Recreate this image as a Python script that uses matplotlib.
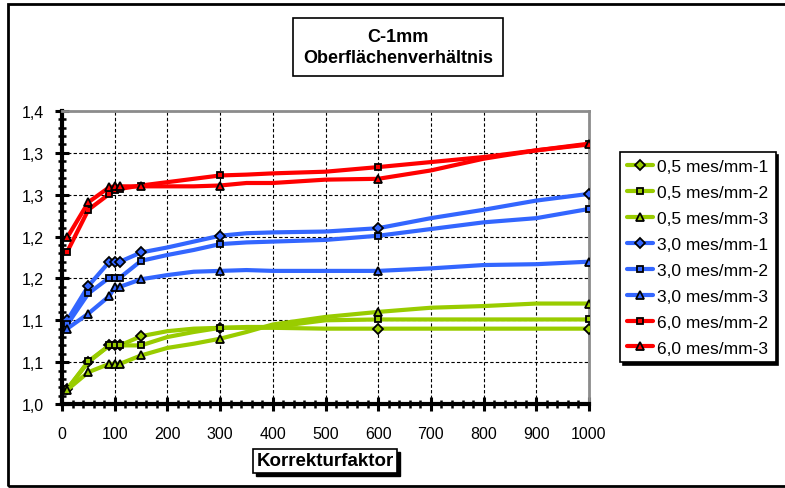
import matplotlib
matplotlib.use('Agg')
import matplotlib.pyplot as plt
from matplotlib.ticker import MultipleLocator, FuncFormatter
from matplotlib.patches import Rectangle
from decimal import Decimal, ROUND_HALF_UP

plt.rcParams['font.family'] = ['Liberation Sans', 'DejaVu Sans']

# ---------------- data ----------------
x_vals = [10, 50, 90, 100, 110, 150, 200, 250, 300, 350, 400, 500, 600, 700, 800, 900, 1000]
marker_x = [10, 50, 90, 100, 110, 150, 300, 600, 1000]

g1 = [1.018, 1.050, 1.070, 1.070, 1.070, 1.081, 1.087, 1.090, 1.091, 1.091, 1.091, 1.090, 1.090, 1.090, 1.090, 1.090, 1.090]
g2 = [1.018, 1.051, 1.070, 1.070, 1.070, 1.070, 1.080, 1.086, 1.091, 1.092, 1.092, 1.100, 1.101, 1.101, 1.101, 1.101, 1.101]
g3 = [1.017, 1.038, 1.048, 1.048, 1.048, 1.058, 1.067, 1.072, 1.078, 1.086, 1.095, 1.104, 1.110, 1.115, 1.117, 1.120, 1.120]
b1 = [1.100, 1.141, 1.170, 1.170, 1.170, 1.181, 1.187, 1.194, 1.201, 1.204, 1.205, 1.206, 1.210, 1.222, 1.232, 1.243, 1.251]
b2 = [1.095, 1.132, 1.151, 1.151, 1.151, 1.171, 1.178, 1.184, 1.191, 1.193, 1.194, 1.196, 1.201, 1.209, 1.217, 1.222, 1.233]
b3 = [1.090, 1.108, 1.129, 1.140, 1.140, 1.149, 1.154, 1.158, 1.159, 1.160, 1.159, 1.159, 1.159, 1.162, 1.166, 1.167, 1.170]
r2 = [1.182, 1.232, 1.251, 1.256, 1.257, 1.261, 1.265, 1.269, 1.273, 1.274, 1.2755, 1.2775, 1.283, 1.289, 1.295, 1.303, 1.310]
r3 = [1.199, 1.241, 1.259, 1.260, 1.260, 1.260, 1.260, 1.260, 1.261, 1.264, 1.264, 1.268, 1.269, 1.279, 1.293, 1.303, 1.311]

labels = ['0,5 mes/mm-1', '0,5 mes/mm-2', '0,5 mes/mm-3',
          '3,0 mes/mm-1', '3,0 mes/mm-2', '3,0 mes/mm-3',
          '6,0 mes/mm-2', '6,0 mes/mm-3']
series = [g1, g2, g3, b1, b2, b3, r2, r3]
colors = ['#99CC00'] * 3 + ['#3366FF'] * 3 + ['#FF0000'] * 2
markers = ['D', 's', '^', 'D', 's', '^', 's', '^']
msizes = {'D': 5, 's': 5, '^': 6}

title_text = 'C-1mm\nOberflächenverhältnis'
xlabel_text = 'Korrekturfaktor'

# ---------------- figure ----------------
W, H = 785, 489
fig = plt.figure(figsize=(W / 100, H / 100), dpi=100)
ax = fig.add_axes([62 / W, 1 - 405 / H, (589 - 62) / W, (405 - 112) / H])

mark_idx = [x_vals.index(v) for v in marker_x]
for y, lab, c, m in zip(series, labels, colors, markers):
    ax.plot(x_vals, y, color=c, lw=3.0, marker=m, markevery=mark_idx,
            ms=msizes[m], mfc=c, mec='black', mew=1.3, label=lab,
            solid_joinstyle='round', solid_capstyle='round', zorder=3)

ax.set_xlim(0, 1000)
ax.set_ylim(1.0, 1.35)
ax.xaxis.set_major_locator(MultipleLocator(100))
ax.xaxis.set_minor_locator(MultipleLocator(20))
ax.yaxis.set_major_locator(MultipleLocator(0.05))
ax.yaxis.set_minor_locator(MultipleLocator(0.01))


def yfmt(v, pos):
    d = Decimal(str(round(v, 6))).quantize(Decimal('0.1'), rounding=ROUND_HALF_UP)
    return str(d).replace('.', ',')


ax.yaxis.set_major_formatter(FuncFormatter(yfmt))

ax.grid(True, which='major', color='black', linestyle=(0, (3, 2)), lw=0.8)
ax.set_axisbelow(True)

ax.tick_params(axis='both', which='major', direction='inout', length=10, width=2.2,
               labelsize=11.5, color='black')
ax.tick_params(axis='both', which='minor', direction='inout', length=6, width=1.8, color='black')
ax.tick_params(axis='x', which='major', pad=11)
ax.tick_params(axis='y', which='major', pad=8)

for s in ['left', 'bottom']:
    ax.spines[s].set_linewidth(3)
    ax.spines[s].set_color('black')
for s in ['top', 'right']:
    ax.spines[s].set_linewidth(2)
    ax.spines[s].set_color('#8C8C8C')

leg = ax.legend(loc='upper left', bbox_to_anchor=(620 / W, 1 - 153 / H),
                bbox_transform=fig.transFigure, borderaxespad=0, fontsize=12.5,
                frameon=True, fancybox=False, edgecolor='black', framealpha=1,
                handlelength=1.5, handletextpad=0.25, labelspacing=0.62,
                borderpad=0.4, shadow={'color': 'black', 'alpha': 1})
leg.get_frame().set_linewidth(1.2)

# title box
fig.text(398 / W, 1 - 48 / H, title_text, ha='center', va='center', fontsize=13,
         fontweight='bold', linespacing=1.3,
         bbox=dict(boxstyle='square,pad=0.55', fc='white', ec='black', lw=1.2))

# x label box with shadow
xl = fig.text(325 / W, 1 - 462 / H, xlabel_text, ha='center', va='center', fontsize=13.5,
              fontweight='bold', zorder=5,
              bbox=dict(boxstyle='square,pad=0.2', fc='white', ec='black', lw=1.2))
fig.canvas.draw()
bb = xl.get_bbox_patch().get_window_extent(fig.canvas.get_renderer())
fig.patches.append(Rectangle((bb.x0 + 3, bb.y0 - 3), bb.width, bb.height,
                             transform=None, fc='black', ec='black', zorder=4))

# outer chart border
fig.patches.append(Rectangle((8 / W, 2 / H), (W - 6) / W, (H - 7) / H,
                             transform=fig.transFigure, fill=False, ec='black', lw=2))

fig.savefig('out.png', dpi=100)
